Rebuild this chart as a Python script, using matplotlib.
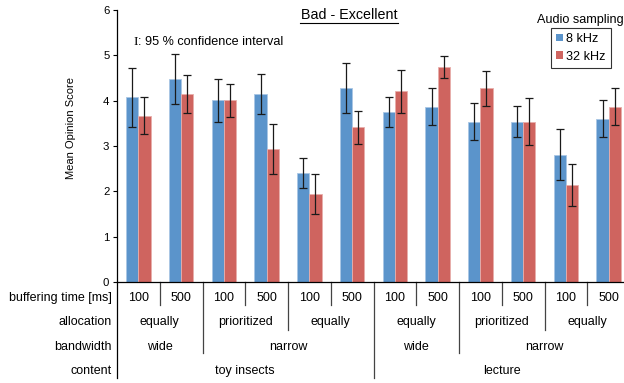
import matplotlib
matplotlib.use("Agg")
import matplotlib.pyplot as plt
import numpy as np
from matplotlib.patches import Patch

plt.rcParams['font.family'] = ['Liberation Sans', 'DejaVu Sans']

# ---- data ----
buffering = ["100", "500"] * 6
allocation = [("equally", 0, 1), ("prioritized", 2, 3), ("equally", 4, 5),
              ("equally", 6, 7), ("prioritized", 8, 9), ("equally", 10, 11)]
bandwidth = [("wide", 0, 1), ("narrow", 2, 5), ("wide", 6, 7), ("narrow", 8, 11)]
content = [("toy insects", 0, 5), ("lecture", 6, 11)]

mos_8k = [4.07, 4.47, 4.01, 4.14, 2.40, 4.27, 3.74, 3.87, 3.54, 3.54, 2.80, 3.60]
ci_lo_8k = [3.42, 3.92, 3.54, 3.70, 2.07, 3.72, 3.41, 3.46, 3.13, 3.19, 2.25, 3.20]
ci_hi_8k = [4.73, 5.02, 4.47, 4.58, 2.74, 4.82, 4.07, 4.29, 3.95, 3.89, 3.37, 4.02]

mos_32k = [3.67, 4.14, 4.01, 2.94, 1.94, 3.41, 4.21, 4.74, 4.27, 3.54, 2.14, 3.87]
ci_lo_32k = [3.26, 3.72, 3.65, 2.39, 1.50, 3.05, 3.72, 4.49, 3.88, 3.03, 1.67, 3.46]
ci_hi_32k = [4.09, 4.56, 4.36, 3.49, 2.38, 3.77, 4.68, 4.99, 4.66, 4.05, 2.60, 4.29]

series_labels = ["8 kHz", "32 kHz"]
row_labels = ["buffering time [ms]", "allocation", "bandwidth", "content"]

# ---- figure ----
W, H = 624, 383
fig = plt.figure(figsize=(W / 100, H / 100), dpi=100)
ax_left, ax_right, ax_bot, ax_top = 117, 630, 282, 10
ax = fig.add_axes([ax_left / W, 1 - ax_bot / H, (ax_right - ax_left) / W, (ax_bot - ax_top) / H])

c_blue = "#5B94CB"
c_red = "#CF645F"
x = np.arange(len(mos_8k))
bw = 0.285

m8 = np.array(mos_8k); m32 = np.array(mos_32k)
err8 = [m8 - np.array(ci_lo_8k), np.array(ci_hi_8k) - m8]
err32 = [m32 - np.array(ci_lo_32k), np.array(ci_hi_32k) - m32]

ax.bar(x - bw / 2, m8, bw, color=c_blue, edgecolor="#A9C6E4", linewidth=0.6, zorder=2)
ax.bar(x + bw / 2, m32, bw, color=c_red, edgecolor="#E8AEAB", linewidth=0.6, zorder=2)
ax.errorbar(x - bw / 2, m8, yerr=err8, fmt="none", ecolor="#1a1a1a", elinewidth=0.9,
            capsize=2.7, capthick=0.9, zorder=3)
ax.errorbar(x + bw / 2, m32, yerr=err32, fmt="none", ecolor="#1a1a1a", elinewidth=0.9,
            capsize=2.7, capthick=0.9, zorder=3)

ax.set_xlim(-0.5, len(x) - 0.5)
ax.set_ylim(0, 6)
ax.set_yticks(range(7))
ax.tick_params(axis="y", length=3, width=0.8, labelsize=8.2, pad=2.5, direction="out")
ax.set_xticks([])
for s in ["top", "right"]:
    ax.spines[s].set_visible(False)
ax.spines["left"].set_linewidth(0.9)
ax.spines["bottom"].set_linewidth(0.9)

# y label
fig.text(71 / W, 1 - 128 / H, "Mean Opinion Score", rotation=90, ha="center", va="center", fontsize=8)

# title & note
fig.text(349 / W, 1 - 15 / H, "Bad - Excellent", ha="center", va="center", fontsize=10.3)
fig.add_artist(plt.Line2D([300 / W, 398 / W], [1 - 22.5 / H, 1 - 22.5 / H], color="black", lw=0.8))
fig.text(133 / W, 1 - 42 / H, "I", ha="left", va="center", fontsize=9.5, family="Liberation Serif")
fig.text(137.5 / W, 1 - 42 / H, ": 95 % confidence interval", ha="left", va="center", fontsize=9.1)

# legend
fig.text(580 / W, 1 - 20 / H, "Audio sampling", ha="center", va="center", fontsize=9.1)
handles = [Patch(facecolor=c_blue, edgecolor="none"), Patch(facecolor=c_red, edgecolor="none")]
leg = fig.legend(handles, series_labels, loc="upper left", bbox_to_anchor=(551 / W, 1 - 28 / H),
                 bbox_transform=fig.transFigure, borderaxespad=0, fontsize=9.1, frameon=True,
                 fancybox=False, handlelength=0.55, handleheight=0.55, handletextpad=0.25,
                 borderpad=0.4, labelspacing=0.45)
leg.get_frame().set_edgecolor("black")
leg.get_frame().set_linewidth(0.8)

# ---- category table below axis ----
def ypix(p):
    return (ax_bot - p) / (ax_bot - ax_top)

tr = ax.get_xaxis_transform()
row_y = [298, 322, 347, 371]
fs = 9
for i, b in enumerate(buffering):
    ax.text(x[i], ypix(row_y[0]), b, transform=tr, ha="center", va="center", fontsize=fs, clip_on=False)
for lab, a, b in allocation:
    ax.text((a + b) / 2, ypix(row_y[1]), lab, transform=tr, ha="center", va="center", fontsize=fs, clip_on=False)
for lab, a, b in bandwidth:
    ax.text((a + b) / 2, ypix(row_y[2]), lab, transform=tr, ha="center", va="center", fontsize=fs, clip_on=False)
for lab, a, b in content:
    ax.text((a + b) / 2, ypix(row_y[3]), lab, transform=tr, ha="center", va="center", fontsize=fs, clip_on=False)

for i, lab in enumerate(row_labels):
    fig.text(112 / W, 1 - row_y[i] / H, lab, ha="right", va="center", fontsize=fs)

# divider lines: depth depends on highest level boundary
row_bottoms = [305, 330, 353, 378]
def boundaries(groups):
    return set(g[2] + 0.5 for g in groups[:-1])
b_alloc = boundaries(allocation)
b_band = boundaries(bandwidth)
b_cont = boundaries(content)
for k in range(len(x) + 1):
    pos = k - 0.5
    if k == 0 or k == len(x):
        depth = row_bottoms[3]
    elif pos in b_cont:
        depth = row_bottoms[3]
    elif pos in b_band:
        depth = row_bottoms[2]
    elif pos in b_alloc:
        depth = row_bottoms[1]
    else:
        depth = row_bottoms[0]
    col = "black" if k == 0 else "#444444"
    ax.plot([pos, pos], [0, ypix(depth)], transform=tr, color=col, lw=0.9, clip_on=False, zorder=1)

fig.savefig("out.png", dpi=100)
